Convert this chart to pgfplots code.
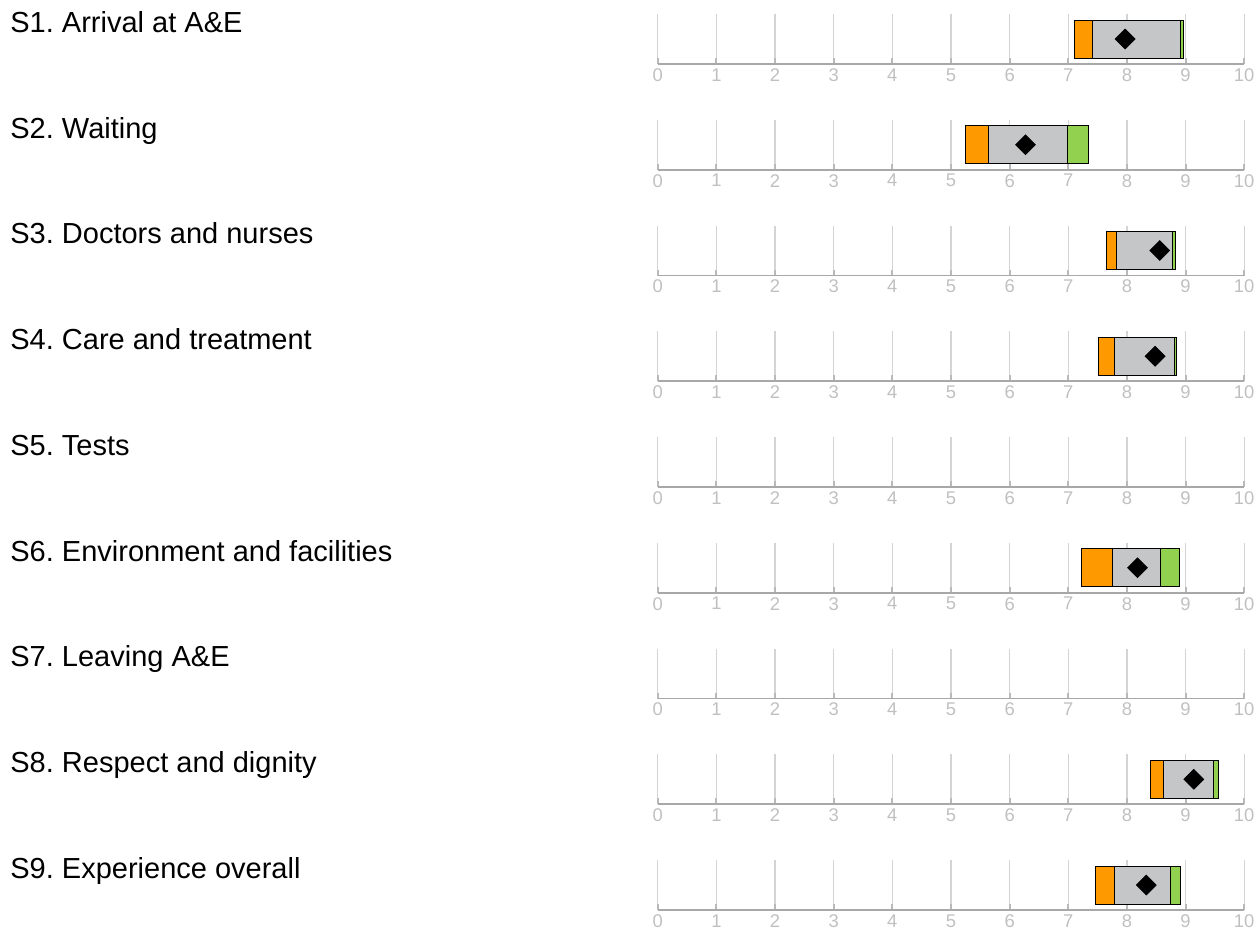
\documentclass[border=0pt]{standalone}
\usepackage{pgfplots}
\pgfplotsset{compat=1.18}
\usepackage{fontspec}
\setmainfont{Liberation Sans}
\frenchspacing

\definecolor{lowband}{HTML}{FF9900}
\definecolor{midband}{HTML}{C5C6C8}
\definecolor{highband}{HTML}{92D050}
\definecolor{gridgrey}{HTML}{D4D4D4}
\definecolor{axisgrey}{HTML}{A8A8A8}
\definecolor{ticktext}{HTML}{C0C0C0}

\pgfplotsset{
  rowaxis/.style={
    width=293.2pt, height=25pt, scale only axis,
    anchor=south west, clip=false,
    xmin=0, xmax=10, ymin=0, ymax=1,
    xtick={0,...,10}, ytick=\empty,
    axis x line*=bottom, axis y line=none,
    xmajorgrids,
    major grid style={gridgrey, line width=0.6pt},
    x axis line style={axisgrey, line width=0.8pt},
    tick align=inside, major tick length=3pt,
    major tick style={axisgrey!80, line width=1pt},
    xticklabel style={text=ticktext, inner sep=2pt,
      font=\fontsize{9.2}{11}\selectfont},
    /pgf/number format/assume math mode=true,
  }
}

% #1 row index, #2 label
\newcommand{\rowlabel}[2]{%
  \node[anchor=base west, inner sep=0pt, font=\fontsize{14.5}{17}\selectfont]
    at (5pt, {-16.2pt-#1*52.875pt}) {#2};}

% #1 row, #2 orange start, #3 grey start, #4 green start, #5 end, #6 score
\newcommand{\scorerow}[6]{%
  \begin{axis}[rowaxis, at={(328.9pt,{-32pt-#1*52.875pt})}]
    \addplot[fill=lowband, draw=black, line width=0.5pt]
      coordinates {(#2,0.12) (#3,0.12) (#3,0.88) (#2,0.88)} -- cycle;
    \addplot[fill=midband, draw=black, line width=0.5pt]
      coordinates {(#3,0.12) (#4,0.12) (#4,0.88) (#3,0.88)} -- cycle;
    \addplot[fill=highband, draw=black, line width=0.5pt]
      coordinates {(#4,0.12) (#5,0.12) (#5,0.88) (#4,0.88)} -- cycle;
    \addplot[only marks, mark=square*, mark size=3.5pt,
      mark options={rotate=45, fill=black, draw=black}]
      coordinates {(#6,0.5)};
  \end{axis}}

\newcommand{\emptyrow}[1]{%
  \begin{axis}[rowaxis, at={(328.9pt,{-32pt-#1*52.875pt})}]
    \addplot[draw=none] coordinates {(0,0.5)};
  \end{axis}}

\begin{document}
\begin{tikzpicture}
  \path[use as bounding box] (0,0) rectangle (630pt,-469.5pt);

  \rowlabel{0}{S1. Arrival at A\&E}
  \scorerow{0}{7.11}{7.42}{8.91}{8.97}{7.97}

  \rowlabel{1}{S2. Waiting}
  \scorerow{1}{5.24}{5.64}{6.99}{7.35}{6.27}

  \rowlabel{2}{S3. Doctors and nurses}
  \scorerow{2}{7.66}{7.83}{8.78}{8.82}{8.56}

  \rowlabel{3}{S4. Care and treatment}
  \scorerow{3}{7.52}{7.78}{8.81}{8.85}{8.48}

  \rowlabel{4}{S5. Tests}
  \emptyrow{4}

  \rowlabel{5}{S6. Environment and facilities}
  \scorerow{5}{7.22}{7.75}{8.57}{8.89}{8.18}

  \rowlabel{6}{S7. Leaving A\&E}
  \emptyrow{6}

  \rowlabel{7}{S8. Respect and dignity}
  \scorerow{7}{8.40}{8.62}{9.48}{9.57}{9.14}

  \rowlabel{8}{S9. Experience overall}
  \scorerow{8}{7.46}{7.78}{8.75}{8.92}{8.33}
\end{tikzpicture}
\end{document}
